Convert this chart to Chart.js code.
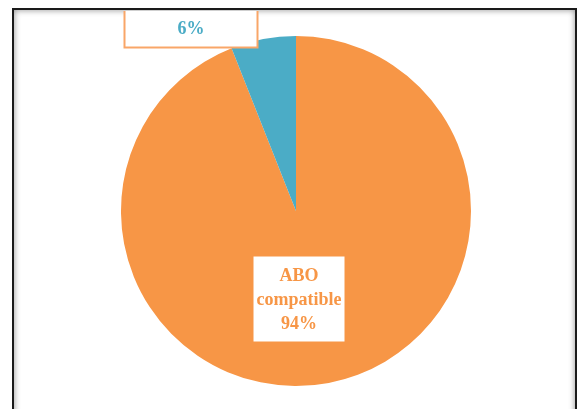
<!DOCTYPE html>
<html>
<head>
<meta charset="utf-8">
<script src="https://cdn.jsdelivr.net/npm/chart.js@4/dist/chart.umd.min.js"></script>
<style>
  html, body { margin: 0; padding: 0; background: #fff; }
  body { width: 578px; height: 409px; position: relative; overflow: hidden; }
  #frame {
    position: absolute; left: 12px; top: 8px; width: 561px; height: 410px;
    border: 2px solid #1a1a1a; overflow: hidden; background: #fff;
    box-shadow: inset 0 0 6px rgba(0,0,0,0.45);
  }
  #chart { position: absolute; left: 1px; top: 1px; }
</style>
</head>
<body>
<div id="frame"><canvas id="chart" width="560" height="400"></canvas></div>
<script>
const labels = ["ABO compatible", "ABO incompatible"]
const values = [94, 6]
const colors = ["#F79646", "#4BACC6"]

// box centre offsets from the pie centre, one per slice
const boxes = [
  { dx: 3, dy: 88, w: 93, lines: ["ABO", "compatible", "94%"], color: "#F79646", edge: "#F79646" },
  { dx: -105, dy: -207, w: 133, lines: ["ABO", "incompatible", "6%"], color: "#4BACC6", edge: "#F9A668" }
]

const boxLabels = {
  id: "boxLabels",
  afterDatasetsDraw(chart) {
    const ctx = chart.ctx
    const arc = chart.getDatasetMeta(0).data[0]
    const lh = 24
    boxes.forEach(b => {
      const cx = arc.x + b.dx, cy = arc.y + b.dy
      const h = b.lines.length * lh + 15
      ctx.save()
      ctx.fillStyle = "#fff"
      ctx.strokeStyle = b.edge
      ctx.lineWidth = 2
      ctx.fillRect(cx - b.w / 2, cy - h / 2, b.w, h)
      ctx.strokeRect(cx - b.w / 2, cy - h / 2, b.w, h)
      // text sitting under the frame's shaded top edge is hidden
      ctx.beginPath()
      ctx.rect(0, 5, chart.width, chart.height)
      ctx.clip()
      ctx.fillStyle = b.color
      ctx.font = "bold 18px 'Liberation Serif', 'DejaVu Serif', serif"
      ctx.textAlign = "center"
      ctx.textBaseline = "middle"
      b.lines.forEach((t, i) => {
        ctx.fillText(t, cx, cy + 1 + (i - (b.lines.length - 1) / 2) * lh)
      })
      ctx.restore()
    })
  }
}

new Chart(document.getElementById("chart").getContext("2d"), {
  type: "pie",
  data: {
    labels: labels,
    datasets: [{
      data: values,
      backgroundColor: colors,
      borderWidth: 0
    }]
  },
  options: {
    responsive: false,
    animation: false,
    layout: { padding: { left: 106, right: 104, top: 25, bottom: 25 } },
    plugins: {
      legend: { display: false },
      tooltip: { enabled: false }
    }
  },
  plugins: [boxLabels]
})
</script>
</body>
</html>
